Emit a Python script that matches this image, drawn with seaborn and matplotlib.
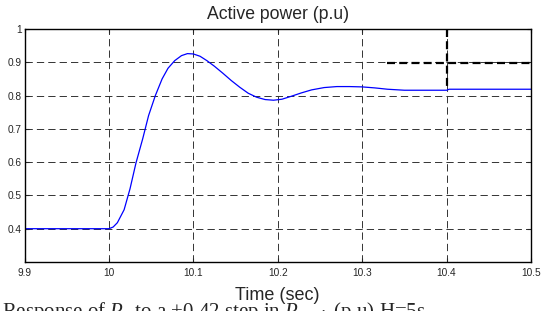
import numpy as np
import pandas as pd
import matplotlib
matplotlib.use("Agg")
import matplotlib.pyplot as plt
import seaborn as sns

# active power response (p.u)
time_s = [9.9, 10.0, 10.005, 10.01, 10.018, 10.025, 10.032, 10.04, 10.047, 10.055,
          10.063, 10.07, 10.078, 10.086, 10.093, 10.1, 10.108, 10.116, 10.125, 10.135,
          10.145, 10.155, 10.165, 10.175, 10.185, 10.195, 10.205, 10.215, 10.228, 10.24,
          10.255, 10.27, 10.285, 10.3, 10.315, 10.33, 10.35, 10.375, 10.4, 10.403,
          10.45, 10.5]
power_pu = [0.4, 0.4, 0.405, 0.418, 0.457, 0.52, 0.597, 0.67, 0.74, 0.80,
            0.85, 0.882, 0.905, 0.92, 0.926, 0.925, 0.918, 0.905, 0.888, 0.867,
            0.845, 0.825, 0.807, 0.795, 0.788, 0.786, 0.789, 0.797, 0.808, 0.817,
            0.824, 0.827, 0.827, 0.826, 0.823, 0.819, 0.816, 0.816, 0.816, 0.819,
            0.819, 0.819]

# thick dashed marker lines
hline_t = [10.33, 10.5]
hline_p = [0.897, 0.897]
vline_t = [10.4, 10.4]
vline_p = [1.0, 0.817]

xticks = [9.9, 10.0, 10.1, 10.2, 10.3, 10.4, 10.5]
xticklabels = ["9.9", "10", "10.1", "10.2", "10.3", "10.4", "10.5"]
yticks = [0.4, 0.5, 0.6, 0.7, 0.8, 0.9, 1.0]
yticklabels = ["0.4", "0.5", "0.6", "0.7", "0.8", "0.9", "1"]

sns.set_style("ticks")
plt.rcParams["font.family"] = ["Liberation Sans", "DejaVu Sans"]
plt.rcParams["mathtext.fontset"] = "custom"
plt.rcParams["mathtext.rm"] = "Liberation Serif"
plt.rcParams["mathtext.it"] = "Liberation Serif:italic"

fig = plt.figure(figsize=(5.41, 3.11), dpi=100)
ax = fig.add_axes([0.0453, 0.1576, 0.9362, 0.7492])

df = pd.DataFrame({"t": time_s, "p": power_pu})
sns.lineplot(data=df, x="t", y="p", ax=ax, color="#0000ff", linewidth=0.9)

sns.lineplot(x=hline_t, y=hline_p, ax=ax, color="black", linewidth=1.6,
             linestyle=(0, (3.6, 1.9)), sort=False, estimator=None)
sns.lineplot(x=vline_t, y=vline_p, ax=ax, color="black", linewidth=1.6,
             linestyle=(0, (3.6, 1.9)), sort=False, estimator=None)

ax.set_xlim(9.9, 10.5)
ax.set_ylim(0.3, 1.0)
ax.set_xticks(xticks)
ax.set_xticklabels(xticklabels)
ax.set_yticks(yticks)
ax.set_yticklabels(yticklabels)

ax.grid(True, color="#333333", linewidth=0.7, linestyle=(0, (7.5, 4.2)))
ax.tick_params(direction="in", length=3, width=0.8, top=True, right=True,
               labelsize=7.3, pad=4)
ax.tick_params(axis="y", pad=2)
for sp in ax.spines.values():
    sp.set_color("black")
    sp.set_linewidth(1.0)

ax.set_title("Active power (p.u)", fontsize=12.7, pad=7)
ax.set_xlabel("Time (sec)", fontsize=13, labelpad=7)
ax.set_ylabel("")

fig.text(0.004, 1 - 300 / 311, r"Response of $P_e$ to a +0.42 step in $P_{mech}$ (p.u) H=5s",
         fontsize=15, family="Liberation Serif", va="top", ha="left")

fig.savefig("out.png", dpi=100)
